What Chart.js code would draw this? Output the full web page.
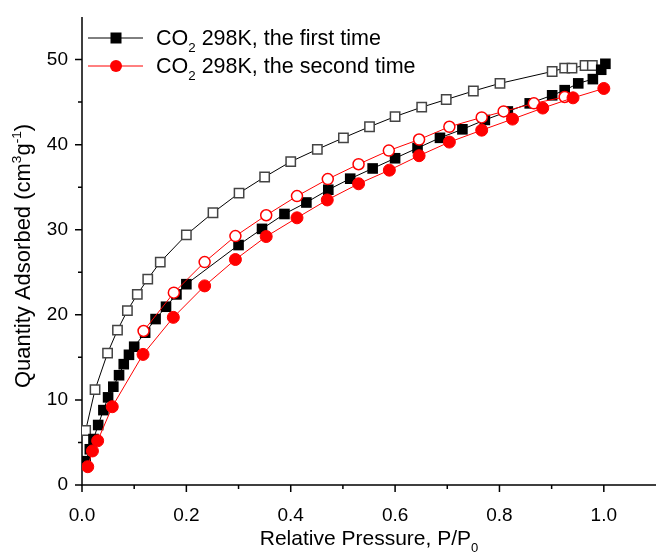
<!DOCTYPE html>
<html lang="en">
<head>
  <meta charset="UTF-8">
  <title>CO2 isotherm</title>
  <script src="https://cdn.jsdelivr.net/npm/chart.js"></script>
  <style>
    body{
      margin: 0;
      background: #fff;
    }
    #wrap{
      width: 656px;
      height: 555px;
    }
  </style>
</head>
<body>
  <div id="wrap"><canvas id="isotherm" width="656" height="555"></canvas></div>

<script>
  // first run, adsorption (filled squares)
  const ads1P = [0.007, 0.015, 0.022, 0.031, 0.041, 0.050, 0.060, 0.071, 0.080, 0.090, 0.100, 0.121, 0.141, 0.161, 0.181, 0.200,
                 0.300, 0.345, 0.388, 0.430, 0.472, 0.514, 0.557, 0.600, 0.643, 0.686, 0.729, 0.772, 0.816, 0.858, 0.901, 0.925,
                 0.951, 0.979, 0.995, 1.003];
  const ads1Q = [2.8, 4.2, 5.4, 7.05, 8.8, 10.3, 11.55, 12.9, 14.2, 15.3, 16.25, 17.9, 19.5, 20.95, 22.4, 23.6,
                 28.2, 30.1, 31.85, 33.2, 34.7, 36.0, 37.2, 38.4, 39.6, 40.8, 41.8, 42.9, 43.9, 44.85, 45.8, 46.4,
                 47.2, 47.7, 48.8, 49.5];
  // first run, desorption (open squares)
  const des1P = [0.007, 0.025, 0.049, 0.068, 0.087, 0.106, 0.126, 0.150, 0.200, 0.251, 0.301, 0.350, 0.400, 0.451, 0.501,
                 0.551, 0.600, 0.651, 0.698, 0.750, 0.801, 0.901, 0.925, 0.939, 0.964, 0.978];
  const des1Q = [6.4, 11.2, 15.5, 18.2, 20.5, 22.4, 24.2, 26.2, 29.4, 32.0, 34.3, 36.2, 38.0, 39.45, 40.8,
                 42.1, 43.3, 44.4, 45.3, 46.3, 47.2, 48.6, 49.0, 49.0, 49.3, 49.3];
  // second run, adsorption (filled circles)
  const ads2P = [0.011, 0.020, 0.030, 0.058, 0.117, 0.175, 0.235, 0.294, 0.353, 0.412, 0.470, 0.530, 0.589, 0.646, 0.704,
                 0.766, 0.825, 0.883, 0.941, 1.000];
  const ads2Q = [2.15, 4.0, 5.2, 9.2, 15.35, 19.7, 23.4, 26.5, 29.2, 31.4, 33.5, 35.4, 37.0, 38.7, 40.3,
                 41.7, 43.0, 44.3, 45.5, 46.6];
  // second run, desorption (open circles)
  const des2P = [0.118, 0.176, 0.235, 0.294, 0.353, 0.412, 0.471, 0.530, 0.588, 0.646, 0.704, 0.766, 0.808, 0.866, 0.925];
  const des2Q = [18.1, 22.6, 26.2, 29.25, 31.7, 33.95, 35.95, 37.7, 39.3, 40.6, 42.1, 43.2, 43.9, 44.85, 45.6];

  const xMajor = [0, 0.2, 0.4, 0.6, 0.8, 1.0];
  const xMinor = [0.1, 0.3, 0.5, 0.7, 0.9];
  const yMajor = [0, 10, 20, 30, 40, 50];
  const yMinor = [5, 15, 25, 35, 45];

  const FONT = '"Liberation Sans", Arial, sans-serif';

  function toPoints(xs, ys) {
    return xs.map((x, i) => ({ x: x, y: ys[i] }));
  }

  // draws text pieces, some of them as sub/superscript
  function richText(ctx, parts, x, y, size) {
    let cx = x;
    parts.forEach(p => {
      let s = size, dy = 0;
      if (p.sub) { s = size * 0.62; dy = size * 0.32; }
      if (p.sup) { s = size * 0.62; dy = -size * 0.42; }
      ctx.font = s + 'px ' + FONT;
      ctx.fillText(p.t, cx, y + dy);
      cx += ctx.measureText(p.t).width;
    });
    return cx - x;
  }

  function richWidth(ctx, parts, size) {
    let w = 0;
    parts.forEach(p => {
      const s = (p.sub || p.sup) ? size * 0.62 : size;
      ctx.font = s + 'px ' + FONT;
      w += ctx.measureText(p.t).width;
    });
    return w;
  }

  const axesPlugin = {
    id: 'axesPlugin',
    beforeDatasetsDraw(chart) {
      const { ctx, chartArea, scales } = chart;
      const xs = scales.x, ys = scales.y;
      ctx.save();
      ctx.strokeStyle = '#000';
      ctx.lineWidth = 1.5;
      ctx.beginPath();
      ctx.moveTo(chartArea.left, chartArea.top);
      ctx.lineTo(chartArea.left, chartArea.bottom);
      ctx.lineTo(chartArea.right, chartArea.bottom);
      ctx.stroke();

      ctx.beginPath();
      xMajor.forEach(v => { const px = xs.getPixelForValue(v); ctx.moveTo(px, chartArea.bottom); ctx.lineTo(px, chartArea.bottom + 7); });
      xMinor.forEach(v => { const px = xs.getPixelForValue(v); ctx.moveTo(px, chartArea.bottom); ctx.lineTo(px, chartArea.bottom + 4); });
      yMajor.forEach(v => { const py = ys.getPixelForValue(v); ctx.moveTo(chartArea.left, py); ctx.lineTo(chartArea.left - 7, py); });
      yMinor.forEach(v => { const py = ys.getPixelForValue(v); ctx.moveTo(chartArea.left, py); ctx.lineTo(chartArea.left - 4, py); });
      ctx.stroke();
      ctx.restore();
    },
    afterDraw(chart) {
      const { ctx, chartArea } = chart;
      ctx.save();
      ctx.fillStyle = '#000';
      ctx.textBaseline = 'alphabetic';

      // x title
      const xt = [{ t: 'Relative Pressure, P/P' }, { t: '0', sub: true }];
      const xw = richWidth(ctx, xt, 21);
      richText(ctx, xt, (chartArea.left + chartArea.right) / 2 - xw / 2, 545, 21);

      // y title
      const yt = [{ t: 'Quantity Adsorbed (cm' }, { t: '3', sup: true }, { t: 'g' }, { t: '-1', sup: true }, { t: ')' }];
      const yw = richWidth(ctx, yt, 22);
      ctx.save();
      ctx.translate(30, 256);
      ctx.rotate(-Math.PI / 2);
      richText(ctx, yt, -yw / 2, 0, 22);
      ctx.restore();

      // legend
      const rows = [
        { color: '#000', style: 'rect', fill: '#000', label: ' 298K, the first time', y: 38 },
        { color: '#ff0000', style: 'circle', fill: '#ff0000', label: ' 298K, the second time', y: 66 }
      ];
      rows.forEach(r => {
        ctx.strokeStyle = r.color;
        ctx.lineWidth = 1;
        ctx.beginPath();
        ctx.moveTo(88, r.y);
        ctx.lineTo(143, r.y);
        ctx.stroke();
        ctx.fillStyle = r.fill;
        if (r.style === 'rect') {
          ctx.fillRect(110.5, r.y - 5.5, 11, 11);
        } else {
          ctx.beginPath();
          ctx.arc(116, r.y, 6, 0, Math.PI * 2);
          ctx.fill();
        }
        ctx.fillStyle = '#000';
        richText(ctx, [{ t: 'CO' }, { t: '2', sub: true }, { t: r.label }], 156, r.y + 7, 21.5);
      });
      ctx.restore();
    }
  };

  const ctx = document.getElementById('isotherm').getContext('2d');

  new Chart(ctx, {
    type: 'scatter',
    data: {
      datasets: [
        {
          label: 'second time, adsorption',
          data: toPoints(ads2P, ads2Q),
          showLine: true,
          borderColor: '#ff0000',
          borderWidth: 1,
          pointStyle: 'circle',
          pointRadius: 6,
          pointBackgroundColor: '#ff0000',
          pointBorderColor: '#ff0000',
          pointBorderWidth: 1,
          order: 0
        },
        {
          label: 'second time, desorption',
          data: toPoints(des2P, des2Q),
          showLine: true,
          borderColor: '#ff0000',
          borderWidth: 1,
          pointStyle: 'circle',
          pointRadius: 5.5,
          pointBackgroundColor: '#fff',
          pointBorderColor: '#ff0000',
          pointBorderWidth: 1.5,
          order: 1
        },
        {
          label: 'first time, adsorption',
          data: toPoints(ads1P, ads1Q),
          showLine: true,
          borderColor: '#000',
          borderWidth: 1,
          pointStyle: 'rect',
          pointRadius: 7.5,
          pointBackgroundColor: '#000',
          pointBorderColor: '#000',
          pointBorderWidth: 0,
          order: 2
        },
        {
          label: 'first time, desorption',
          data: toPoints(des1P, des1Q),
          showLine: true,
          borderColor: '#000',
          borderWidth: 1,
          pointStyle: 'rect',
          pointRadius: 6.6,
          pointBackgroundColor: '#fff',
          pointBorderColor: '#444',
          pointBorderWidth: 1.5,
          order: 3
        }
      ]
    },
    options: {
      responsive: false,
      animation: false,
      devicePixelRatio: 1,
      layout: { autoPadding: false, padding: { top: 17, right: 0, left: 0, bottom: 0 } },
      plugins: {
        legend: { display: false },
        tooltip: { enabled: false }
      },
      scales: {
        x: {
          type: 'linear',
          min: 0,
          max: 1.1,
          grid: { display: false, drawTicks: false },
          border: { display: false },
          afterFit(scale) {
            scale.height = 70;
            scale.paddingLeft = 0;
            scale.paddingRight = 0;
          },
          ticks: {
            stepSize: 0.1,
            autoSkip: false,
            maxRotation: 0,
            padding: 19,
            color: '#000',
            font: { family: FONT, size: 19 },
            callback(v) {
              const k = Math.round(v * 10);
              return xMajor.some(m => Math.round(m * 10) === k) ? (k / 10).toFixed(1) : '';
            }
          }
        },
        y: {
          type: 'linear',
          min: 0,
          max: 55,
          grid: { display: false, drawTicks: false },
          border: { display: false },
          afterFit(scale) {
            scale.width = 82;
            scale.paddingTop = 0;
            scale.paddingBottom = 0;
          },
          ticks: {
            stepSize: 5,
            autoSkip: false,
            padding: 14,
            color: '#000',
            font: { family: FONT, size: 19 },
            callback(v) {
              return yMajor.includes(v) ? String(v) : '';
            }
          }
        }
      }
    },
    plugins: [axesPlugin]
  });
</script>
</body>
</html>
